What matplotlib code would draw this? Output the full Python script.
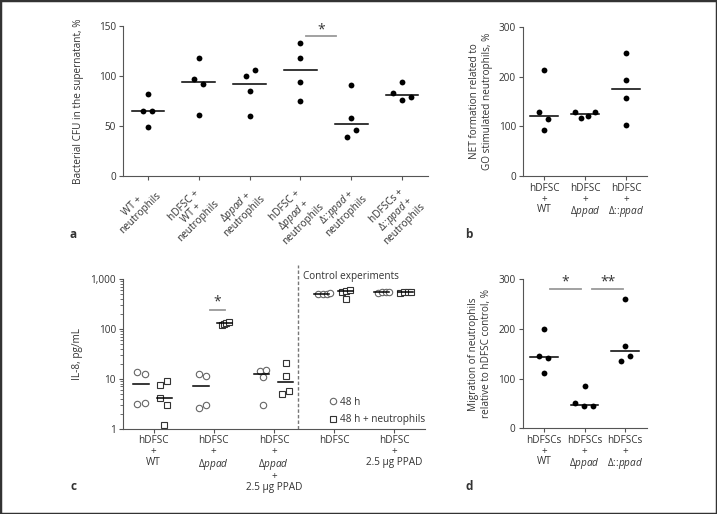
import matplotlib
matplotlib.use('Agg')
import matplotlib.pyplot as plt
from matplotlib.lines import Line2D
from matplotlib.patches import Rectangle
from matplotlib.ticker import LogLocator, NullFormatter
import numpy as np

FS = 7.2
LS = 0.95
plt.rcParams['font.family'] = ['Open Sans', 'DejaVu Sans']
plt.rcParams['font.size'] = FS
plt.rcParams['mathtext.fontset'] = 'custom'
plt.rcParams['mathtext.it'] = 'Open Sans:italic'
plt.rcParams['mathtext.rm'] = 'Open Sans'

TXT = '#333333'
SP = '#555555'
SIG = '#9a9a9a'

# ---------------- data ----------------
a_labels = ['WT +\nneutrophils',
            'hDFSC +\nWT +\nneutrophils',
            'Δ$\\mathit{ppad}$ +\nneutrophils',
            'hDFSC +\nΔ$\\mathit{ppad}$ +\nneutrophils',
            'Δ::$\\mathit{ppad}$ +\nneutrophils',
            'hDFSCs +\nΔ::$\\mathit{ppad}$ +\nneutrophils']
a_values = [[82, 65, 65, 49],
            [118, 97, 92, 61],
            [106, 100, 85, 60],
            [133, 118, 94, 75],
            [91, 58, 46, 39],
            [94, 83, 79, 76]]
a_yticks = [0, 50, 100, 150]

b_labels = ['hDFSC\n+\nWT', 'hDFSC\n+\nΔ$\\mathit{ppad}$', 'hDFSC\n+\nΔ::$\\mathit{ppad}$']
b_values = [[213, 128, 114, 92],
            [129, 116, 121, 129],
            [247, 193, 157, 102]]
b_yticks = [0, 100, 200, 300]

c_labels = ['hDFSC\n+\nWT', 'hDFSC\n+\nΔ$\\mathit{ppad}$',
            'hDFSC\n+\nΔ$\\mathit{ppad}$\n+\n2.5 µg PPAD',
            'hDFSC', 'hDFSC\n+\n2.5 µg PPAD']
c_48h = [[13.7, 12.2, 3.1, 3.3],
         [12.5, 11.4, 2.6, 2.9],
         [14.3, 15.0, 10.9, 2.9],
         [490, 500, 510, 520],
         [530, 540, 545, 555]]
c_48h_neut = [[7.3, 9.0, 4.1, 2.9, 1.2],
              [122, 127, 131, 135],
              [20.7, 11.4, 5.7, 4.9],
              [560, 575, 590, 395],
              [530, 540, 550, 560]]
c_yticks = [1, 10, 100, 1000]
c_yticklabels = ['1', '10', '100', '1,000']

d_labels = ['hDFSCs\n+\nWT', 'hDFSCs\n+\nΔ$\\mathit{ppad}$', 'hDFSCs\n+\nΔ::$\\mathit{ppad}$']
d_values = [[200, 146, 142, 111],
            [85, 50, 45, 45],
            [260, 166, 146, 136]]
d_yticks = [0, 100, 200, 300]

# ---------------- layout (horizontal jitter of points) ----------------
a_off = [[0, -0.09, 0.09, 0], [0, -0.09, 0.09, 0], [0.1, -0.08, 0, 0],
         [0, 0, 0, 0], [0, 0, 0.09, -0.09], [0, -0.18, 0.18, 0]]
b_off = [[0, -0.11, 0.1, 0], [-0.25, -0.09, 0.07, 0.24], [0, 0, 0, 0]]
d_off = [[0, -0.12, 0.1, 0], [0, -0.23, -0.02, 0.21], [0, 0, 0.12, -0.11]]
c_off_circ = [[-0.27, -0.14, -0.27, -0.14],
              [-0.25, -0.13, -0.25, -0.13],
              [-0.23, -0.13, -0.18, -0.18],
              [-0.26, -0.19, -0.12, -0.07],
              [-0.27, -0.2, -0.14, -0.08]]
c_off_sq = [[0.11, 0.23, 0.11, 0.23, 0.17],
            [0.13, 0.17, 0.21, 0.25],
            [0.2, 0.2, 0.25, 0.14],
            [0.13, 0.2, 0.27, 0.2],
            [0.1, 0.16, 0.22, 0.28]]

fig = plt.figure(figsize=(7.17, 5.14), dpi=100)


def style(ax):
    for s in ['top', 'right']:
        ax.spines[s].set_visible(False)
    for s in ['left', 'bottom']:
        ax.spines[s].set_color(SP)
        ax.spines[s].set_linewidth(0.8)
    ax.tick_params(colors=SP, labelcolor=TXT, length=3, width=0.8, labelsize=FS, pad=2)


def dots(ax, vals, offs, half):
    for i, (v, o) in enumerate(zip(vals, offs)):
        x = i + np.array(o)
        ax.plot(x, v, 'o', color='black', ms=4.2, mew=0, clip_on=False, zorder=3)
        m = np.median(v)
        ax.plot([i - half, i + half], [m, m], color='black', lw=1.1, zorder=2)


def sigbar(ax, x0, x1, y, ystar, txt):
    ax.plot([x0, x1], [y, y], color=SIG, lw=1.3, clip_on=False)
    ax.text((x0 + x1) / 2, ystar, txt, ha='center', va='center', fontsize=10, color=TXT)


# ---------------- panel a ----------------
ax = fig.add_axes([0.1715, 0.6576, 0.4255, 0.2918])
style(ax)
dots(ax, a_values, a_off, 0.32)
ax.set_ylim(0, 150)
ax.set_xlim(-0.49, 5.51)
ax.set_yticks(a_yticks)
ax.set_xticks(range(len(a_labels)))
ax.set_xticklabels(a_labels, rotation=45, ha='right', va='top', rotation_mode='anchor',
                   multialignment='center', linespacing=LS)
ax.set_ylabel('Bacterial CFU in the supernatant, %', color=TXT)
ax.yaxis.set_label_coords(-0.128, 0.5)
sigbar(ax, 3.1, 3.7, 140, 146, '*')
fig.text(0.102, 0.543, 'a', fontsize=8.5, fontweight='bold', color=TXT, ha='center', va='center')

# ---------------- panel b ----------------
ax = fig.add_axes([0.7294, 0.6576, 0.173, 0.29])
style(ax)
dots(ax, b_values, b_off, 0.34)
ax.set_ylim(0, 300)
ax.set_xlim(-0.51, 2.51)
ax.set_yticks(b_yticks)
ax.set_xticks(range(3))
ax.set_xticklabels(b_labels, linespacing=LS)
ax.set_ylabel('NET formation related to\nGO stimulated neutrophils, %', color=TXT)
ax.yaxis.set_label_coords(-0.242, 0.5)
fig.text(0.654, 0.543, 'b', fontsize=8.5, fontweight='bold', color=TXT, ha='center', va='center')

# ---------------- panel c ----------------
ax = fig.add_axes([0.1715, 0.1663, 0.4212, 0.2909])
style(ax)
ax.set_yscale('log')
ax.set_ylim(1, 1000)
ax.set_xlim(-0.51, 4.51)
for i in range(len(c_labels)):
    xc = i + np.array(c_off_circ[i])
    ax.plot(xc, c_48h[i], 'o', mfc='white', mec='#666666', mew=0.8, ms=4.6, clip_on=False, zorder=3)
    m = np.median(c_48h[i])
    ax.plot([i - 0.34, i - 0.08], [m, m], color='black', lw=1.1, zorder=4)
    xs = i + np.array(c_off_sq[i])
    ax.plot(xs, c_48h_neut[i], 's', mfc='white', mec='#333333', mew=0.8, ms=4.4, clip_on=False, zorder=3)
    m = np.median(c_48h_neut[i])
    ax.plot([i + 0.06, i + 0.31], [m, m], color='black', lw=1.1, zorder=4)
ax.set_yticks(c_yticks)
ax.set_yticklabels(c_yticklabels)
ax.yaxis.set_minor_locator(LogLocator(base=10, subs=np.arange(2, 10)))
ax.yaxis.set_minor_formatter(NullFormatter())
ax.tick_params(axis='y', which='minor', length=2, width=0.6, colors=SP)
ax.set_xticks(range(len(c_labels)))
ax.set_xticklabels(c_labels, linespacing=LS)
ax.set_ylabel('IL-8, pg/mL', color=TXT)
ax.yaxis.set_label_coords(-0.132, 0.5)
ax.plot([2.40, 2.40], [0, 1.095], transform=ax.get_xaxis_transform(), color='#777777',
        lw=1.0, ls=(0, (2.5, 1.5)), clip_on=False)
ax.text(0.596, 1.02, 'Control experiments', transform=ax.transAxes, ha='left', va='center',
        fontsize=FS, color=TXT)
sigbar(ax, 0.93, 1.18, 240, 340, '*')
handles = [Line2D([], [], ls='', marker='o', mfc='white', mec='#666666', mew=0.8, ms=4.6),
           Line2D([], [], ls='', marker='s', mfc='white', mec='#333333', mew=0.8, ms=4.4)]
leg = ax.legend(handles, ['48 h', '48 h + neutrophils'], loc='upper left',
                bbox_to_anchor=(0.686, 0.212), frameon=False, handlelength=0.6,
                handletextpad=0.35, labelspacing=0.62, borderaxespad=0, borderpad=0,
                fontsize=FS, labelcolor=TXT)
fig.text(0.102, 0.053, 'c', fontsize=8.5, fontweight='bold', color=TXT, ha='center', va='center')

# ---------------- panel d ----------------
ax = fig.add_axes([0.729, 0.1667, 0.173, 0.2897])
style(ax)
dots(ax, d_values, d_off, 0.34)
ax.set_ylim(0, 300)
ax.set_xlim(-0.53, 2.53)
ax.set_yticks(d_yticks)
ax.set_xticks(range(3))
ax.set_xticklabels(d_labels, linespacing=LS)
ax.set_ylabel('Migration of neutrophils\nrelative to hDFSC control, %', color=TXT)
ax.yaxis.set_label_coords(-0.25, 0.5)
sigbar(ax, 0.14, 0.90, 281, 295, '*')
sigbar(ax, 1.19, 1.95, 281, 295, '**')
fig.text(0.654, 0.053, 'd', fontsize=8.5, fontweight='bold', color=TXT, ha='center', va='center')

fig.patches.append(Rectangle((0, 0), 1, 1, transform=fig.transFigure, fill=False,
                             edgecolor='#333333', linewidth=2.5))

fig.savefig('out.png', dpi=100)
